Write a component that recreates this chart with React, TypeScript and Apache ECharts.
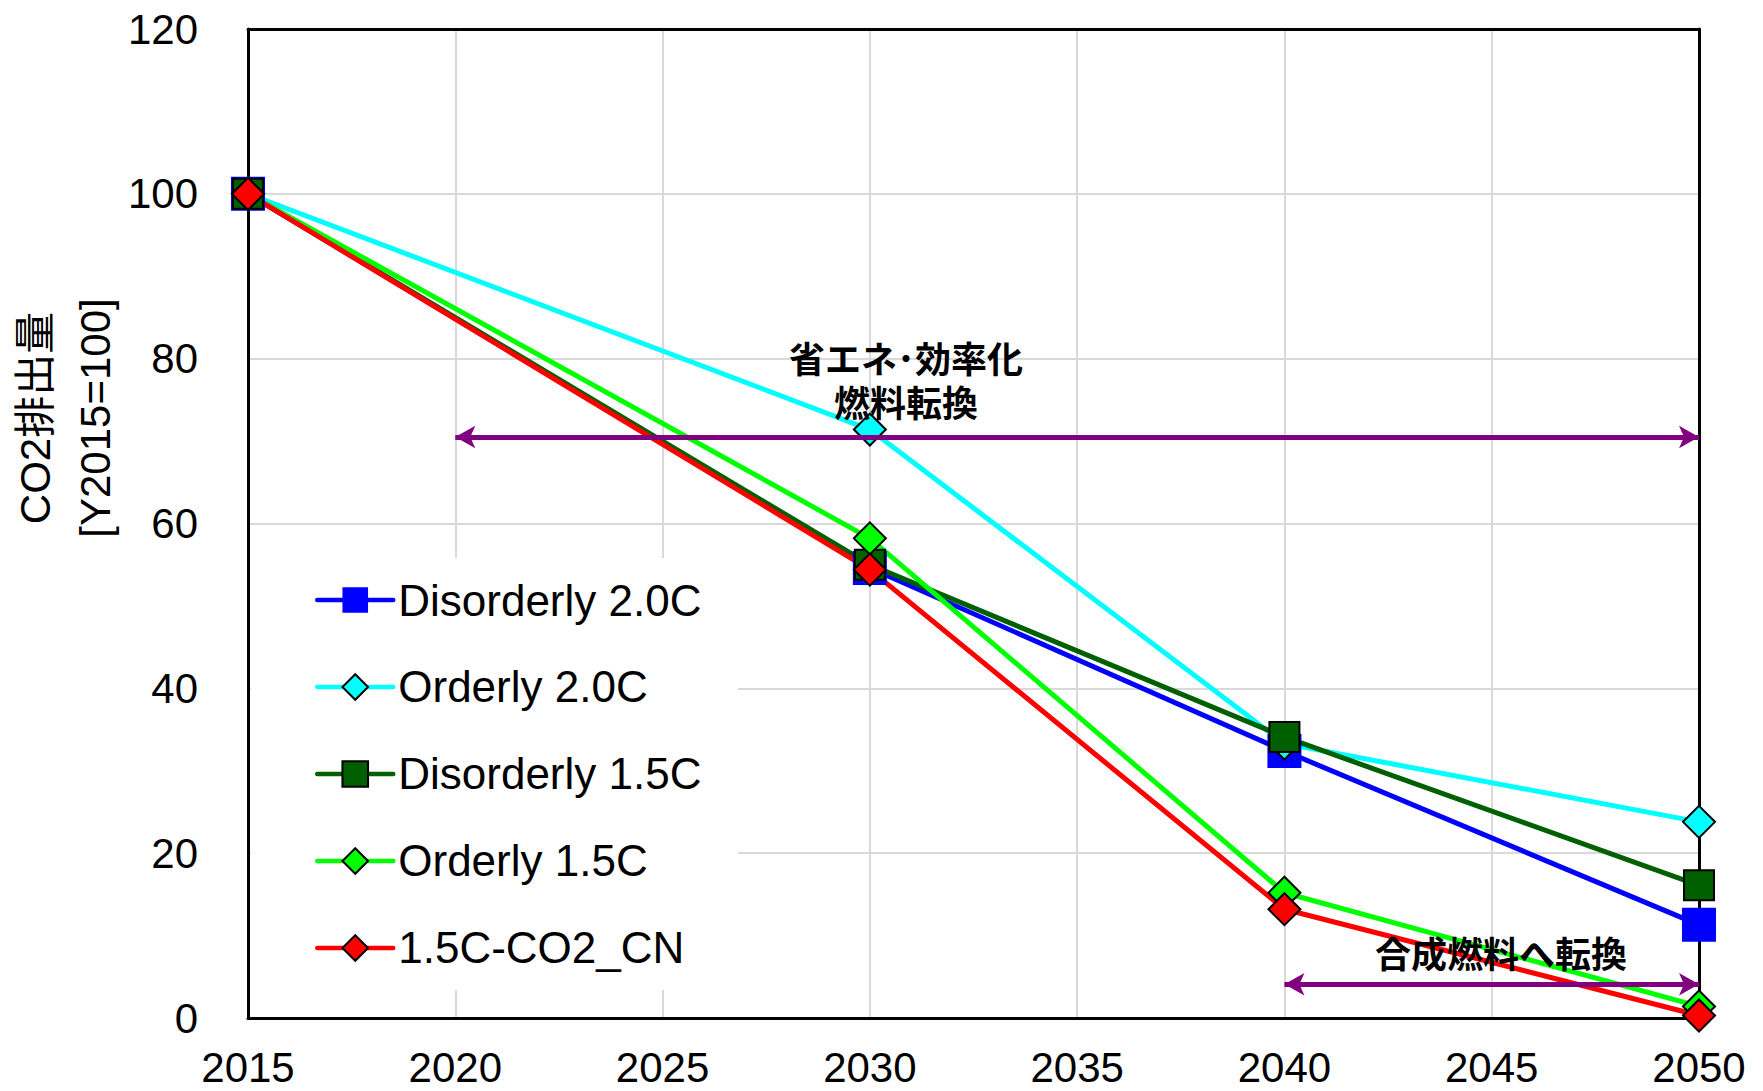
import React, { useEffect, useRef } from "react";
import * as echarts from "echarts";

const years = [2015, 2030, 2040, 2050];
const disorderly20 = [100, 54.6, 32.4, 11.3];
const orderly20 = [100, 71.4, 33.3, 23.8];
const disorderly15 = [100, 55.0, 34.1, 16.1];
const orderly15 = [100, 58.2, 15.2, 1.4];
const co2cn = [100, 54.4, 13.2, 0.3];

const seriesNames = ["Disorderly 2.0C", "Orderly 2.0C", "Disorderly 1.5C", "Orderly 1.5C", "1.5C-CO2_CN"];
const arrow1 = { from: 2020, to: 2050, y: 70.5 };
const arrow2 = { from: 2040, to: 2050, y: 4.1 };
const note1a = "省エネ･効率化";
const note1b = "燃料転換";
const note2 = "合成燃料へ転換";
const yName = "CO2排出量\n[Y2015=100]";

const FONT = "'Liberation Sans', Arial, 'Noto Sans CJK JP', sans-serif";
const JP = "'Noto Sans CJK JP', 'Liberation Sans', sans-serif";

function pairs(vals: number[]) {
  return years.map((y, i) => [y, vals[i]]);
}

export default function App() {
  const ref = useRef<HTMLDivElement>(null);
  useEffect(() => {
    if (!ref.current) return;
    const chart = echarts.init(ref.current, null, { renderer: "svg" });
    const mk = (name: string, vals: number[], color: string, symbol: string, size: number, border: boolean, extra: any = {}) => ({
      name,
      type: "line",
      data: pairs(vals),
      symbol,
      symbolSize: size,
      clip: false,
      lineStyle: { color, width: 5 },
      itemStyle: border ? { color, borderColor: "#000", borderWidth: 2 } : { color, borderWidth: 0 },
      emphasis: { disabled: true },
      ...extra,
    });
    const arrowLine = {
      symbol: ["arrow", "arrow"],
      symbolSize: [17, 20],
      silent: true,
      label: { show: false },
      lineStyle: { color: "#800080", width: 5, type: "solid" },
      data: [
        [{ coord: [arrow1.from, arrow1.y] }, { coord: [arrow1.to, arrow1.y] }],
        [{ coord: [arrow2.from, arrow2.y] }, { coord: [arrow2.to, arrow2.y] }],
      ],
      z: 6,
    };
    const textStyle = (fs: number) => ({ fill: "#000", font: `bold ${fs}px ${JP}`, align: "center", verticalAlign: "middle" });
    chart.setOption({
      animation: false,
      backgroundColor: "#fff",
      grid: { left: 248, right: 64, top: 29, bottom: 73 },
      xAxis: [
        {
          type: "value",
          min: 2015,
          max: 2050,
          interval: 5,
          axisLine: { show: true, onZero: false, lineStyle: { color: "#000", width: 3 } },
          axisTick: { show: false },
          axisLabel: { color: "#000", fontSize: 42, fontFamily: FONT, margin: 28, formatter: (v: number) => String(v) },
          splitLine: { show: true, showMinLine: false, showMaxLine: false, lineStyle: { color: "#d9d9d9", width: 2 } },
        },
        {
          type: "value",
          position: "top",
          min: 2015,
          max: 2050,
          interval: 5,
          axisLine: { show: true, onZero: false, lineStyle: { color: "#000", width: 3 } },
          axisTick: { show: false },
          axisLabel: { show: false },
          splitLine: { show: false },
        },
      ],
      yAxis: [
        {
          type: "value",
          min: 0,
          max: 120,
          interval: 20,
          axisLine: { show: true, onZero: false, lineStyle: { color: "#000", width: 3 } },
          axisTick: { show: false },
          axisLabel: { color: "#000", fontSize: 42, fontFamily: FONT, margin: 50 },
          splitLine: { show: true, showMinLine: false, showMaxLine: false, lineStyle: { color: "#d9d9d9", width: 2 } },
        },
        {
          type: "value",
          position: "right",
          min: 0,
          max: 120,
          interval: 20,
          axisLine: { show: true, onZero: false, lineStyle: { color: "#000", width: 3 } },
          axisTick: { show: false },
          axisLabel: { show: false },
          splitLine: { show: false },
        },
      ],
      legend: {
        data: seriesNames,
        orient: "vertical",
        left: 315,
        top: 578,
        padding: 0,
        itemWidth: 76,
        itemHeight: 32,
        itemGap: 43,
        selectedMode: false,
        lineStyle: { width: 4.5, cap: "round" },
        textStyle: { color: "#000", fontSize: 44, fontFamily: FONT },
      },
      graphic: [
        { type: "rect", z: 1, silent: true, shape: { x: 251, y: 558, width: 487, height: 432 }, style: { fill: "#fff" } },
        { type: "text", z: 10, x: 906, y: 357, style: { text: note1a, ...textStyle(36) } },
        { type: "text", z: 10, x: 906, y: 401, style: { text: note1b, ...textStyle(36) } },
        { type: "text", z: 10, x: 1501, y: 952, style: { text: note2, ...textStyle(36) } },
        {
          type: "text",
          z: 10,
          x: 65,
          y: 418,
          rotation: Math.PI / 2,
          style: { text: yName, fill: "#000", font: `42px ${FONT}`, align: "center", verticalAlign: "middle", lineHeight: 60 },
        },
      ],
      series: [
        mk(seriesNames[0], disorderly20, "#0000FF", "rect", 34, false),
        mk(seriesNames[1], orderly20, "#00FFFF", "diamond", 32, true),
        mk(seriesNames[2], disorderly15, "#006000", "rect", 30, true),
        mk(seriesNames[3], orderly15, "#00FF00", "diamond", 32, true),
        mk(seriesNames[4], co2cn, "#FF0000", "diamond", 32, true, { markLine: arrowLine }),
      ],
    });
    return () => chart.dispose();
  }, []);
  return <div ref={ref} style={{ position: "absolute", left: 0, top: 0, width: 1763, height: 1091 }} />;
}
